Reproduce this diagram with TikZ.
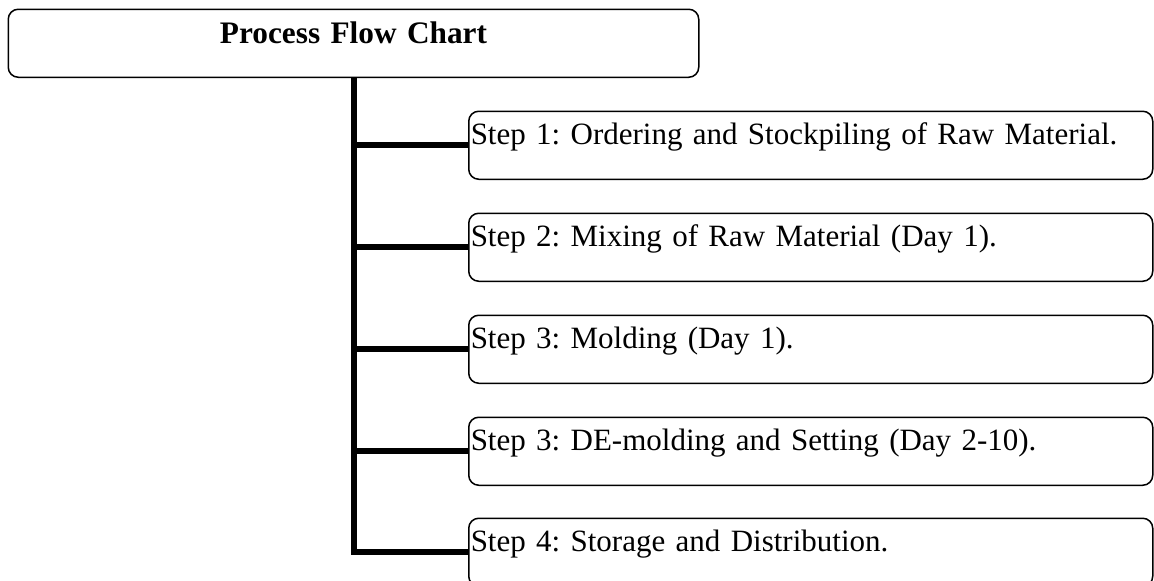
\documentclass[tikz,border=0pt]{standalone}
\usepackage{fontspec}
\setmainfont{Liberation Serif}
\frenchspacing
\begin{document}
\begin{tikzpicture}[x=1pt,y=-1pt,
  boxbase/.style={draw=black, line width=1.5pt, rounded corners=10pt, inner ysep=0pt, inner xsep=2pt, font=\fontsize{31}{37}\selectfont},
  titlebox/.style={boxbase, anchor=north west, minimum width=690.5pt, text width=686.5pt, align=center, text height=34pt, text depth=34pt, font=\fontsize{31.3}{38}\selectfont\bfseries},
  stepbox/.style={boxbase, anchor=north west, minimum width=684pt, text width=680pt, align=left, text height=33pt, text depth=35pt},
  link/.style={line width=6pt, draw=black}
]
\clip (0,0) rectangle (1154,581);
\node[titlebox] (title) at (7.5,8.5) {\frenchspacing Process Flow Chart};
\node[stepbox] (s1) at (468,110.5) {\frenchspacing Step 1: Ordering and Stockpiling of Raw Material.};
\node[stepbox] (s2) at (468,212.5) {\frenchspacing Step 2: Mixing of Raw Material (Day 1).};
\node[stepbox] (s3) at (468,314.5) {\frenchspacing Step 3: Molding (Day 1).};
\node[stepbox] (s4) at (468,416.5) {\frenchspacing Step 3: DE-molding and Setting (Day 2-10).};
\node[stepbox] (s5) at (468,517.5) {\frenchspacing Step 4: Storage and Distribution.};
\draw[link] (title.south) |- (s5.west);
\foreach \s in {s1,s2,s3,s4}{
  \draw[link] (\s.west) -- (\s.west -| title.south);
}
\end{tikzpicture}
\end{document}
